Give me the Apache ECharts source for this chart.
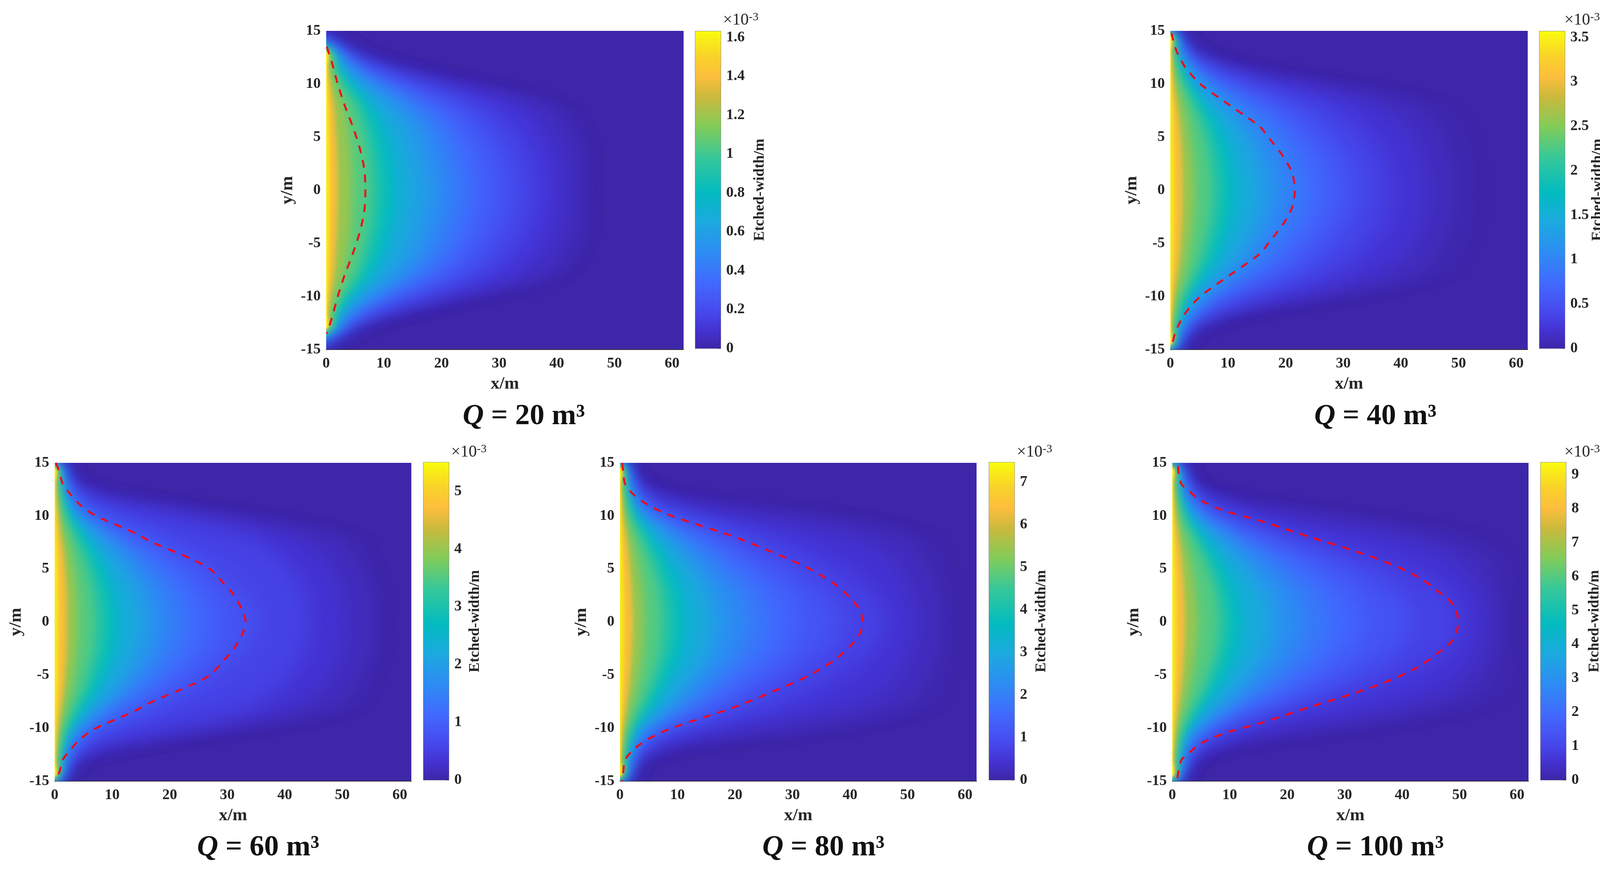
<!DOCTYPE html>
<html>
<head>
<meta charset="utf-8">
<title>Etched width</title>
<script src="https://cdn.jsdelivr.net/npm/echarts@6/dist/echarts.min.js"></script>
<style>
html, body { margin: 0; padding: 0; background: #fff; }
#main { width: 4131px; height: 2230px; }
</style>
</head>
<body>
<div id="main"></div>
<script>
const xTicks = [0, 10, 20, 30, 40, 50, 60];
const yTicks = [-15, -10, -5, 0, 5, 10, 15];

// y stops of every contour row, mirrored for the lower half of the plot
const contourY = [0, 3, 6, 8, 10, 11.5, 13, 14.5];
// contour levels as a share of the colorbar range
const levels = [0.004, 0.01, 0.03, 0.06, 0.10, 0.15, 0.2, 0.25, 0.3, 0.36, 0.42, 0.49, 0.56, 0.64, 0.73, 0.85, 0.93, 0.97];

const q20Contours = [
    [47, 47, 45.5, 41.5, 26, 13, 3, 0.3],
    [46, 46, 44.5, 40.5, 25, 12, 2.8, 0.25],
    [44, 44, 42, 39, 23, 10.5, 2.3, 0.2],
    [41, 40.5, 38, 34, 20, 9, 2, 0.15],
    [37, 36, 33, 28, 16.5, 7.5, 1.7, 0.1],
    [32.5, 31.5, 28, 23, 13.5, 6.2, 1.4, 0.1],
    [28, 27, 24, 19.5, 11, 5.2, 1.2, 0.1],
    [24.5, 23.5, 21, 16.5, 9.5, 4.5, 1, 0.05],
    [21.5, 20.5, 18, 14.5, 8, 3.8, 0.9, 0.05],
    [18.5, 17.5, 15.5, 12.2, 6.8, 3.3, 0.8, 0],
    [15, 14.2, 12.3, 9.7, 5.4, 2.6, 0.65, 0],
    [12, 11.4, 9.8, 7.7, 4.3, 2.1, 0.5, 0],
    [10, 9.5, 8.1, 6.4, 3.5, 1.7, 0.45, 0],
    [7.8, 7.4, 6.3, 5, 2.7, 1.3, 0.35, 0],
    [4.5, 4.3, 3.7, 2.9, 1.6, 0.8, 0.2, 0],
    [2, 1.9, 1.6, 1.3, 0.7, 0.35, 0.1, 0],
    [0.8, 0.75, 0.65, 0.5, 0.3, 0.15, 0.05, 0],
    [0.4, 0.38, 0.33, 0.26, 0.15, 0.08, 0.03, 0]
];
const q40Contours = [
    [54, 54, 52, 49, 33, 13, 3, 0.4],
    [52, 52, 50, 47, 31, 12, 2.7, 0.35],
    [49, 48.5, 46, 42.5, 26, 10, 2.4, 0.3],
    [44, 43.5, 40.5, 35.5, 20.5, 8.5, 2.1, 0.25],
    [38, 37, 33, 28, 15, 6.8, 1.8, 0.2],
    [32.5, 31, 26.5, 21, 11, 5.2, 1.5, 0.15],
    [28, 26.5, 22, 17, 8.8, 4.2, 1.3, 0.15],
    [24, 22.5, 18.5, 13.6, 7.2, 3.5, 1.1, 0.1],
    [20.5, 19.2, 15.6, 11.2, 6, 3, 1, 0.1],
    [17.5, 16.3, 13, 9.4, 5, 2.6, 0.85, 0.1],
    [14.5, 13.5, 10.8, 7.8, 4.1, 2.2, 0.75, 0.08],
    [11.3, 10.5, 8.4, 6, 3.2, 1.75, 0.6, 0.05],
    [9.3, 8.7, 7, 5, 2.7, 1.4, 0.5, 0.05],
    [7.2, 6.7, 5.4, 3.9, 2.1, 1.1, 0.4, 0.03],
    [4.2, 3.9, 3.1, 2.3, 1.2, 0.65, 0.25, 0.02],
    [2.1, 2, 1.6, 1.15, 0.6, 0.32, 0.13, 0.01],
    [0.9, 0.85, 0.7, 0.5, 0.27, 0.15, 0.06, 0.01],
    [0.4, 0.37, 0.3, 0.22, 0.12, 0.07, 0.03, 0]
];
const q60Contours = [
    [57.5, 57.5, 56, 54, 38, 14, 3, 0.5],
    [57, 57, 55, 52.5, 35, 12.5, 2.8, 0.4],
    [55, 54.5, 52, 48.5, 30, 11, 2.5, 0.35],
    [50, 49.5, 46.5, 41, 24, 9, 2.2, 0.3],
    [44, 43, 39, 33, 18, 7, 1.9, 0.25],
    [35, 32, 25, 17.5, 8, 3.4, 1.3, 0.5],
    [28, 26, 20, 13.5, 6, 2.8, 1.1, 0.4],
    [23.5, 22, 16.5, 11, 5, 2.4, 0.95, 0.35],
    [20, 18.5, 14, 9.2, 4.2, 2, 0.85, 0.3],
    [17, 15.7, 11.8, 7.8, 3.6, 1.75, 0.75, 0.25],
    [14, 13, 9.8, 6.5, 3.1, 1.5, 0.65, 0.2],
    [11, 10.2, 7.8, 5.3, 2.5, 1.25, 0.55, 0.15],
    [9.2, 8.5, 6.5, 4.4, 2.1, 1.05, 0.45, 0.12],
    [7, 6.5, 5, 3.4, 1.7, 0.85, 0.35, 0.1],
    [4, 3.8, 2.9, 2, 1, 0.55, 0.25, 0.08],
    [2.1, 2, 1.6, 1.1, 0.6, 0.3, 0.15, 0.04],
    [0.9, 0.85, 0.7, 0.5, 0.25, 0.15, 0.07, 0.02],
    [0.4, 0.38, 0.32, 0.22, 0.12, 0.07, 0.03, 0.01]
];
const q80Contours = [
    [59, 59, 57.5, 55.5, 42, 15, 3.5, 0.6],
    [58, 57.5, 56, 53.5, 39, 13.5, 3.1, 0.5],
    [55.5, 55, 52.5, 49, 32, 11.5, 2.7, 0.5],
    [51, 50, 46.5, 40, 20, 8, 2.2, 0.5],
    [46, 43, 35.5, 27, 11.5, 4.2, 1.4, 0.45],
    [38, 35, 27, 19.5, 7.8, 3, 1.1, 0.4],
    [31, 29, 21.5, 15.2, 6.2, 2.6, 1, 0.35],
    [26, 24.2, 18, 12.5, 5.2, 2.3, 0.9, 0.3],
    [22, 20.4, 15, 10.4, 4.4, 2, 0.8, 0.3],
    [18, 16.7, 12.4, 8.5, 3.7, 1.75, 0.7, 0.25],
    [15, 13.9, 10.3, 7.1, 3.1, 1.5, 0.6, 0.2],
    [11.5, 10.7, 8, 5.5, 2.5, 1.25, 0.52, 0.15],
    [9.5, 8.8, 6.6, 4.6, 2.1, 1.05, 0.45, 0.12],
    [7.3, 6.8, 5.1, 3.5, 1.7, 0.85, 0.35, 0.1],
    [4.2, 3.9, 3, 2.05, 1, 0.55, 0.25, 0.08],
    [2.2, 2, 1.55, 1.1, 0.55, 0.3, 0.15, 0.05],
    [0.9, 0.85, 0.65, 0.45, 0.25, 0.14, 0.07, 0.03],
    [0.4, 0.37, 0.3, 0.2, 0.12, 0.07, 0.03, 0.01]
];
const q100Contours = [
    [61, 61, 60, 55, 36, 13.5, 3.5, 0.8],
    [59, 59, 58, 53, 33.5, 12.5, 3.2, 0.7],
    [57, 56.5, 54, 46, 26, 10, 2.8, 0.6],
    [54, 53, 48, 38, 18, 7.5, 2.2, 0.55],
    [50, 47, 36, 23, 10, 4.2, 1.6, 0.5],
    [41, 38, 28, 17.5, 7.5, 3.2, 1.3, 0.45],
    [33, 30.5, 22.5, 14, 6.2, 2.7, 1.15, 0.4],
    [27.5, 25.5, 18.5, 11.7, 5.2, 2.4, 1, 0.35],
    [23, 21.3, 15.4, 10, 4.4, 2.05, 0.9, 0.3],
    [19, 17.6, 12.8, 8.4, 3.7, 1.8, 0.8, 0.25],
    [15.7, 14.5, 10.6, 7, 3.1, 1.5, 0.68, 0.2],
    [12, 11.1, 8.2, 5.4, 2.5, 1.25, 0.55, 0.15],
    [10, 9.2, 6.8, 4.5, 2.1, 1.05, 0.47, 0.12],
    [8, 7.3, 5.4, 3.6, 1.7, 0.85, 0.37, 0.1],
    [4.4, 4, 3, 2, 1, 0.55, 0.26, 0.08],
    [2.2, 2, 1.55, 1.05, 0.55, 0.3, 0.15, 0.05],
    [0.9, 0.85, 0.65, 0.45, 0.25, 0.14, 0.07, 0.03],
    [0.4, 0.37, 0.3, 0.2, 0.12, 0.07, 0.03, 0.01]
];

// where each level leaves the x=0 edge
const q20Edge = [14.6, 14.6, 14.6, 14.6, 14.5, 14.5, 14.4, 14.4, 14.3, 14.2, 14.1, 14, 13.9, 13.8, 13.7, 13.6, 13.5, 13.4];
const fullEdge = [15, 15, 15, 15, 15, 15, 15, 15, 15, 15, 15, 15, 15, 15, 15, 15, 15, 15];

// red dashed fronts
const q20RedY = [13.5, 12, 10, 8, 6, 4, 2, 0, -2, -4, -6, -8, -10, -12, -13.5];
const q20RedX = [0.1, 1, 2, 3.2, 4.6, 5.8, 6.6, 6.8, 6.6, 5.8, 4.6, 3.2, 2, 1, 0.1];
const q40RedY = [14.8, 13.5, 12.5, 11.5, 10, 8, 6, 5, 3, 1.5, 0, -1.5, -3, -5, -6, -8, -10, -11.5, -12.5, -13.5, -14.8];
const q40RedX = [0.2, 0.8, 1.6, 2.7, 5.2, 10.3, 15.5, 17, 19.8, 21.2, 21.6, 21.2, 19.8, 17, 15.5, 10.3, 5.2, 2.7, 1.6, 0.8, 0.2];
const q60RedY = [15, 14, 13, 12, 11, 10, 8.5, 7.5, 6, 5, 3.5, 2.5, 1, 0, -1, -2.5, -3.5, -5, -6, -7.5, -8.5, -10, -11, -12, -13, -14, -15];
const q60RedX = [0.2, 0.9, 1.4, 2.8, 4.5, 7.2, 13.5, 17, 23.5, 27, 29.6, 31.2, 32.7, 33.2, 32.7, 31.2, 29.6, 27, 23.5, 17, 13.5, 7.2, 4.5, 2.8, 1.4, 0.9, 0.2];
const q80RedY = [15, 14, 13, 12, 11, 10, 8, 6, 5, 3.5, 2, 1, 0, -1, -2, -3.5, -5, -6, -8, -10, -11, -12, -13, -14, -15];
const q80RedX = [0.4, 0.6, 0.9, 2.4, 5, 9, 20, 29, 33, 37.5, 40.5, 41.8, 42.2, 41.8, 40.5, 37.5, 33, 29, 20, 9, 5, 2.4, 0.9, 0.6, 0.4];
const q100RedY = [14.7, 14, 13, 12.5, 11.5, 10.5, 9.5, 8, 7, 6, 5, 4, 3, 1.9, 1, 0, -1, -1.9, -3, -4, -5, -6, -7, -8, -9.5, -10.5, -11.5, -12.5, -13, -14, -15];
const q100RedX = [1, 1.1, 1.6, 2.6, 4.8, 9, 15.5, 24, 30, 35.5, 40, 43.5, 46, 48.5, 49.4, 49.8, 49.4, 48.5, 46, 43.5, 40, 35.5, 30, 24, 15.5, 9, 4.8, 2.6, 1.6, 1.1, 0.8];

// colorbar ticks
const q20Ticks = [0, 0.2, 0.4, 0.6, 0.8, 1, 1.2, 1.4, 1.6];
const q40Ticks = [0, 0.5, 1, 1.5, 2, 2.5, 3, 3.5];
const q60Ticks = [0, 1, 2, 3, 4, 5];
const q80Ticks = [0, 1, 2, 3, 4, 5, 6, 7];
const q100Ticks = [0, 1, 2, 3, 4, 5, 6, 7, 8, 9];

const parula = [
    [0, '#3e26a8'], [0.06, '#4433d3'], [0.111, '#4747eb'], [0.206, '#4269fe'], [0.302, '#2d8cf3'],
    [0.397, '#1ca9df'], [0.492, '#02bbc0'], [0.603, '#37c899'], [0.698, '#81cc59'],
    [0.794, '#ccb93c'], [0.857, '#fdbe3d'], [0.92, '#f9d229'], [1, '#f9fb0e']
];

// softening of each contour edge, px
const levelBlur = [16, 24, 36, 44, 54, 60, 60, 50, 44, 40, 36, 28, 26, 24, 22, 12, 6, 4];

const panels = [
    { name: '20', contours: q20Contours, edges: q20Edge, redX: q20RedX, redY: q20RedY, ticks: q20Ticks, max: 1.632,
      left: 835, top: 79, plotW: 915, plotH: 816, barLeft: 1780, barTop: 80, barH: 812, nameGap: 81, labelGap: 14,
      titleX: 1336, titleY: 1024, unitX: 1851, unitY: 29 },
    { name: '40', contours: q40Contours, edges: fullEdge, redX: q40RedX, redY: q40RedY, ticks: q40Ticks, max: 3.57,
      left: 2996, top: 79, plotW: 915, plotH: 816, barLeft: 3941, barTop: 80, barH: 812, nameGap: 59, labelGap: 14,
      titleX: 3516, titleY: 1024, unitX: 4005, unitY: 29 },
    { name: '60', contours: q60Contours, edges: fullEdge, redX: q60RedX, redY: q60RedY, ticks: q60Ticks, max: 5.5,
      left: 140, top: 1185, plotW: 913, plotH: 815, barLeft: 1084, barTop: 1184, barH: 813, nameGap: 48, labelGap: 14,
      titleX: 656, titleY: 2128, unitX: 1155, unitY: 1135 },
    { name: '80', contours: q80Contours, edges: fullEdge, redX: q80RedX, redY: q80RedY, ticks: q80Ticks, max: 7.46,
      left: 1587, top: 1185, plotW: 913, plotH: 815, barLeft: 2532, barTop: 1184, barH: 813, nameGap: 50, labelGap: 14,
      titleX: 2103, titleY: 2128, unitX: 2603, unitY: 1135 },
    { name: '100', contours: q100Contours, edges: fullEdge, redX: q100RedX, redY: q100RedY, ticks: q100Ticks, max: 9.36,
      left: 3001, top: 1185, plotW: 912, plotH: 815, barLeft: 3944, barTop: 1184, barH: 813, nameGap: 54, labelGap: 14,
      titleX: 3516, titleY: 2128, unitX: 4005, unitY: 1135 }
];

const barW = 65;
const offscreen = 6000;
const fontFamily = '"Liberation Serif", serif';
const textColor = '#262626';

function hexToRgb(hex) {
    return [1, 3, 5].map(i => parseInt(hex.substr(i, 2), 16));
}

function levelColor(f) {
    for (let i = 1; i < parula.length; i++) {
        if (f <= parula[i][0]) {
            const a = parula[i - 1], b = parula[i];
            const t = (f - a[0]) / (b[0] - a[0]);
            const ca = hexToRgb(a[1]), cb = hexToRgb(b[1]);
            return 'rgb(' + ca.map((c, k) => Math.round(c + (cb[k] - c) * t)).join(',') + ')';
        }
    }
    return parula[parula.length - 1][1];
}

const option = { animation: false, backgroundColor: '#fff', title: [], grid: [], xAxis: [], yAxis: [], series: [] };

panels.forEach(function (p, i) {
    const plotIdx = i * 2, barIdx = i * 2 + 1;

    option.grid.push({
        left: p.left, top: p.top, width: p.plotW, height: p.plotH,
        show: true, backgroundColor: parula[0][1], borderWidth: 0
    });
    option.grid.push({
        left: p.barLeft, top: p.barTop, width: barW, height: p.barH,
        show: true, borderColor: '#8f8f8f', borderWidth: 2
    });

    option.xAxis.push({
        gridIndex: plotIdx, type: 'value', min: 0, max: 62,
        name: 'x/m', nameLocation: 'middle', nameGap: 66,
        nameTextStyle: { fontFamily: fontFamily, fontWeight: 'bold', fontSize: 45, color: textColor },
        axisLine: { show: true, onZero: false, lineStyle: { color: '#333', width: 2 } },
        axisTick: { show: false }, splitLine: { show: false },
        axisLabel: { customValues: xTicks, margin: 17, fontFamily: fontFamily, fontWeight: 'bold', fontSize: 38, color: textColor }
    });
    option.yAxis.push({
        gridIndex: plotIdx, type: 'value', min: -15, max: 15,
        name: 'y/m', nameLocation: 'middle', nameGap: 76, nameRotate: 90,
        nameTextStyle: { fontFamily: fontFamily, fontWeight: 'bold', fontSize: 45, color: textColor },
        axisLine: { show: false }, axisTick: { show: false }, splitLine: { show: false },
        axisLabel: { customValues: yTicks, margin: 14, fontFamily: fontFamily, fontWeight: 'bold', fontSize: 38, color: textColor }
    });
    option.xAxis.push({
        gridIndex: barIdx, type: 'category', data: [p.name], show: false
    });
    option.yAxis.push({
        gridIndex: barIdx, type: 'value', position: 'right', min: 0, max: p.max,
        name: 'Etched-width/m', nameLocation: 'middle', nameGap: p.nameGap, nameRotate: 90,
        nameTextStyle: { fontFamily: fontFamily, fontWeight: 'bold', fontSize: 38, color: textColor },
        axisLine: { show: false }, splitLine: { show: false },
        axisTick: { show: true, inside: true, length: 9, customValues: p.ticks, lineStyle: { color: '#5a5a5a', width: 2 } },
        axisLabel: { customValues: p.ticks, margin: p.labelGap, fontFamily: fontFamily, fontWeight: 'bold', fontSize: 38, color: textColor }
    });

    option.series.push({
        type: 'custom', coordinateSystem: 'cartesian2d', xAxisIndex: plotIdx, yAxisIndex: plotIdx, clip: true, z: 2,
        data: p.contours.map((row, k) => [levels[k]].concat(row)),
        renderItem: function (params, api) {
            const row = p.contours[params.dataIndex];
            const edge = p.edges[params.dataIndex];
            // the outline sits off to the left, only its blurred shadow lands in the plot
            const place = (x, y) => {
                const c = api.coord([x, y]);
                return [c[0] - offscreen, c[1]];
            };
            const pts = [place(-8, -edge)];
            for (let k = contourY.length - 1; k >= 0; k--) {
                if (contourY[k] < edge) pts.push(place(row[k], -contourY[k]));
            }
            for (let k = 1; k < contourY.length; k++) {
                if (contourY[k] < edge) pts.push(place(row[k], contourY[k]));
            }
            pts.push(place(-8, edge));
            const color = levelColor(levels[params.dataIndex]);
            return {
                type: 'polygon',
                shape: { points: pts, smooth: 0.3 },
                style: { fill: color, shadowBlur: levelBlur[params.dataIndex], shadowColor: color, shadowOffsetX: offscreen }
            };
        }
    });
    option.series.push({
        type: 'line', xAxisIndex: plotIdx, yAxisIndex: plotIdx, z: 3, symbol: 'none', smooth: 0.3,
        data: p.redX.map((x, k) => [x, p.redY[k]]),
        lineStyle: { color: '#f5091c', width: 5, type: [20, 18] }
    });
    option.series.push({
        type: 'bar', xAxisIndex: barIdx, yAxisIndex: barIdx, barWidth: '100%', z: 2,
        data: [p.max],
        itemStyle: {
            color: {
                type: 'linear', x: 0, y: 1, x2: 0, y2: 0,
                colorStops: parula.map(s => ({ offset: s[0], color: s[1] }))
            }
        }
    });

    option.title.push({
        text: '{q|Q} = ' + p.name + ' m\u00b3',
        left: p.titleX, top: p.titleY, textAlign: 'center',
        textStyle: {
            fontFamily: fontFamily, fontWeight: 'bold', fontSize: 75, color: '#111',
            rich: { q: { fontFamily: fontFamily, fontStyle: 'italic', fontWeight: 'bold', fontSize: 75, color: '#111' } }
        }
    });
    option.title.push({
        text: '\u00d710{s|-3}',
        left: p.unitX, top: p.unitY, padding: 0,
        textStyle: {
            fontFamily: fontFamily, fontWeight: 'normal', fontSize: 42, color: textColor,
            rich: { s: { fontFamily: fontFamily, fontSize: 30, color: textColor, padding: [0, 0, 16, 0] } }
        }
    });
});

const chart = echarts.init(document.getElementById('main'), null, { width: 4131, height: 2230 });
chart.setOption(option);
</script>
</body>
</html>
